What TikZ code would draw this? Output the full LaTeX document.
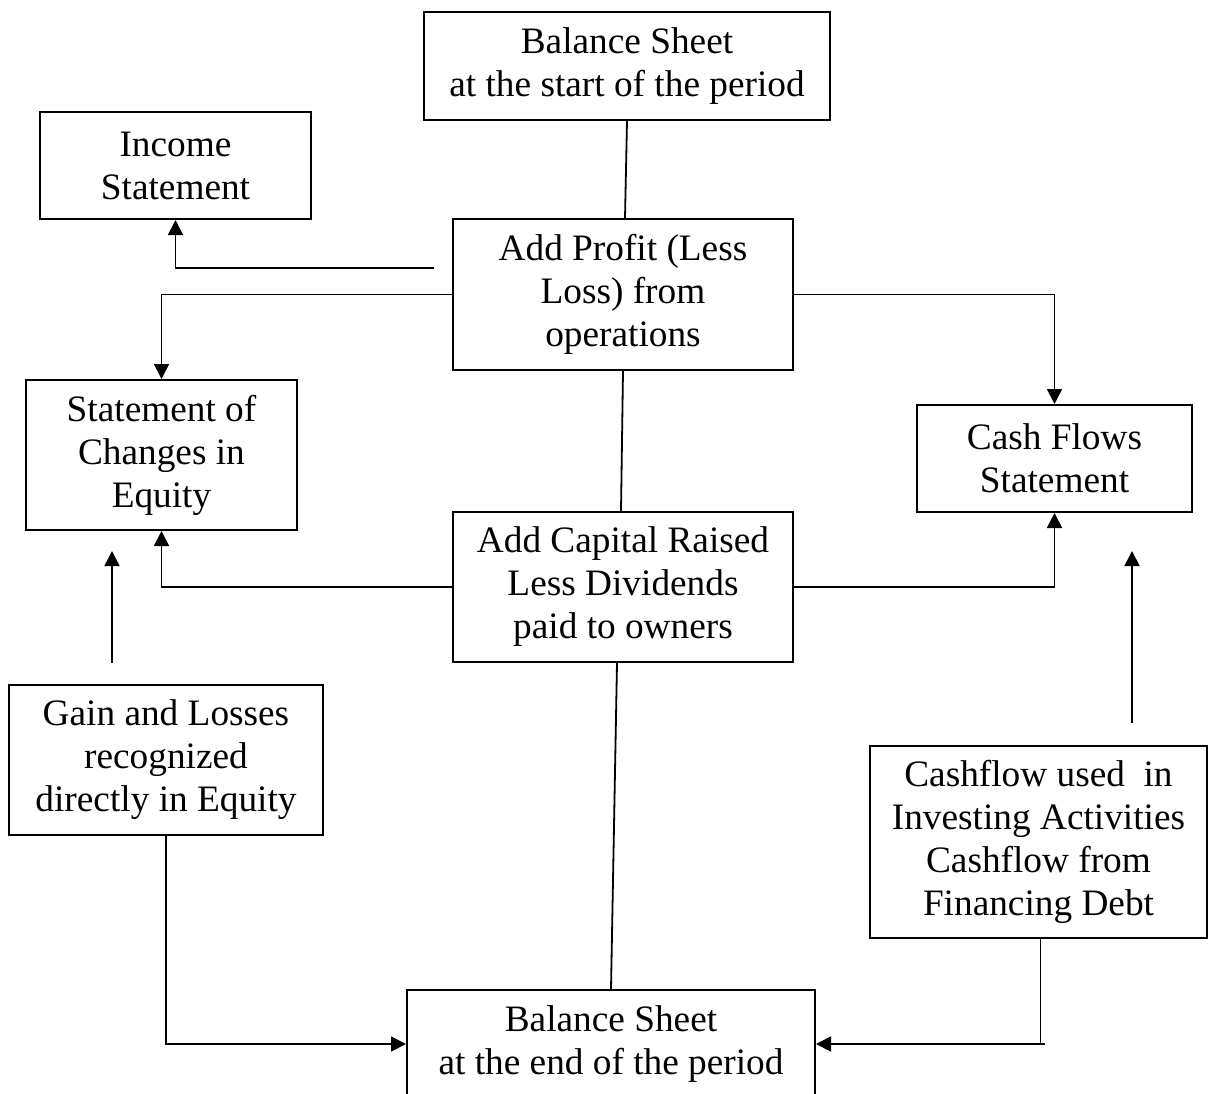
\documentclass[tikz,border=0pt]{standalone}
\usepackage{fontspec}
\setmainfont{Liberation Serif}
\usetikzlibrary{arrows.meta,calc}
\begin{document}
\begin{tikzpicture}[x=1pt,y=-1pt,
  box/.style={draw, line width=2pt, rectangle, align=center, inner sep=0pt,
    font=\fontsize{37.3}{43}\selectfont},
  conn/.style={line width=1.8pt},
  arr/.style={conn, -{Triangle[length=15pt,width=15pt]}}]
\clip (0,0) rectangle (1208,1093);
\fill[white] (0,0) rectangle (1208,1093);
% nodes
\node[box, minimum width=406pt, minimum height=108pt] (bsS) at (627,66) {Balance Sheet\\at the start of the period};
\node[box, minimum width=271pt, minimum height=107pt] (inc) at (175.5,165.5) {Income\\Statement};
\node[box, minimum width=340pt, minimum height=151pt] (prof) at (623,294.5) {Add Profit (Less\\Loss) from\\operations};
\node[box, minimum width=271pt, minimum height=150pt] (soce) at (161.5,455) {Statement of\\Changes in\\Equity};
\node[box, minimum width=275pt, minimum height=107pt] (cfs) at (1054.5,458.5) {Cash Flows\\Statement};
\node[box, minimum width=340pt, minimum height=150pt] (cap) at (623,587) {Add Capital Raised\\Less Dividends\\paid to owners};
\node[box, minimum width=314pt, minimum height=150pt] (gain) at (166,759.5) {Gain and Losses\\recognized\\directly in Equity};
\node[box, minimum width=337pt, minimum height=192pt] (cash) at (1038.5,842) {Cashflow used\ \ in\\Investing Activities\\Cashflow from\\Financing Debt};
\node[box, minimum width=408pt, minimum height=108pt] (bsE) at (611,1044) {Balance Sheet\\at the end of the period};
% free ends
\coordinate (incfree) at (434,268);
\coordinate (la) at (112,663);
\coordinate (lb) at (112,551);
\coordinate (ra) at (1132,723);
\coordinate (rb) at (1132,551);
\coordinate (cashend) at (1045,1044);
% connectors
\draw[conn] (bsS.south) -- ($(prof.north)+(2,0)$);
\draw[arr] (incfree) -| (inc.south);
\draw[arr] (prof.west) -| (soce.north);
\draw[arr] (prof.east) -| (cfs.north);
\draw[conn] (prof.south) -- ($(cap.north)+(-2,0)$);
\draw[arr] (cap.west) -| (soce.south);
\draw[arr] (cap.east) -| (cfs.south);
\draw[arr] (la) -- (lb);
\draw[arr] (ra) -- (rb);
\draw[conn] ($(cap.south)+(-6,0)$) -- (bsE.north);
\draw[arr] (gain.south) |- (bsE.west);
\draw[conn] ($(cash.south)+(2,0)$) -- ($(cash.south |- cashend)+(2,1)$);
\draw[arr] (cashend) -- (bsE.east);
\end{tikzpicture}
\end{document}
